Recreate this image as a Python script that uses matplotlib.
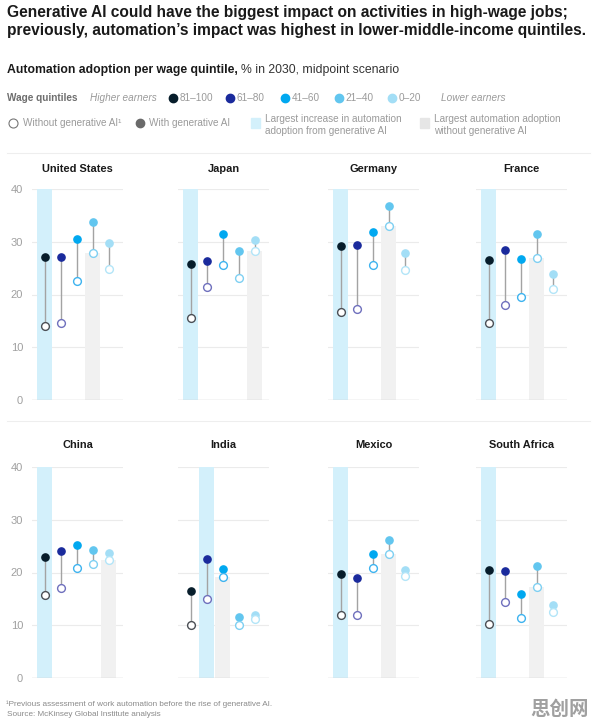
import matplotlib
matplotlib.use("Agg")
import matplotlib.pyplot as plt
from matplotlib.patches import Rectangle
from matplotlib.lines import Line2D

plt.rcParams['font.family'] = ['Liberation Sans', 'DejaVu Sans']

W, H = 596, 724

countries = ["United States", "Japan", "Germany", "France",
             "China", "India", "Mexico", "South Africa"]
quintiles = ["81\u2013100", "61\u201380", "41\u201360", "21\u201340", "0\u201320"]

# % in 2030, midpoint scenario, per wage quintile (81-100 ... 0-20)
with_gen = [
    [27.1, 27.1, 30.5, 33.8, 29.8],
    [25.8, 26.3, 31.4, 28.2, 30.4],
    [29.2, 29.4, 31.8, 36.7, 27.8],
    [26.5, 28.5, 26.8, 31.4, 23.9],
    [22.9, 24.1, 25.2, 24.3, 23.7],
    [16.5, 22.5, 20.6, 11.5, 11.9],
    [19.7, 19.0, 23.5, 26.1, 20.5],
    [20.5, 20.2, 16.0, 21.3, 13.8],
]
without_gen = [
    [14.0, 14.6, 22.5, 27.9, 24.8],
    [15.6, 21.5, 25.5, 23.2, 28.2],
    [16.7, 17.2, 25.6, 33.0, 24.7],
    [14.6, 18.0, 19.6, 26.9, 21.0],
    [15.7, 17.1, 20.9, 21.6, 22.4],
    [10.0, 15.0, 19.2, 10.0, 11.2],
    [11.9, 11.9, 20.9, 23.6, 19.4],
    [10.2, 14.5, 11.4, 17.2, 12.6],
]
# index of quintile with largest increase from gen AI / largest adoption without
largest_increase = [0, 0, 0, 0, 0, 1, 0, 0]
largest_without = [3, 4, 3, 3, 4, 2, 3, 3]

yticks = [0, 10, 20, 30, 40]

dot_colors = ["#071d2b", "#1a2a9c", "#00a8f0", "#62c6ef", "#a3def6"]
ring_colors = ["#4b4f55", "#6f70bd", "#3eb3ef", "#7fd0f2", "#b3e5f8"]
band_blue = "#d3f0fb"
band_grey = "#f1f1f1"
leg_grey = "#9a9a9a"
LFS = 7.2

fig = plt.figure(figsize=(W / 100, H / 100), dpi=100)


def px_axes(x, y, w, h):
    return fig.add_axes([x / W, 1 - (y + h) / H, w / W, h / H])


# title block
fig.text(7 / W, 1 - 13 / H,
         "Generative AI could have the biggest impact on activities in high-wage jobs;",
         fontsize=11.2, fontweight="bold", color="#1a1a1a", va="center")
fig.text(7 / W, 1 - 31 / H,
         "previously, automation\u2019s impact was highest in lower-middle-income quintiles.",
         fontsize=11.2, fontweight="bold", color="#1a1a1a", va="center")

t1 = fig.text(7 / W, 1 - 70 / H, "Automation adoption per wage quintile,",
              fontsize=8.8, fontweight="bold", color="#1a1a1a", va="center")
fig.canvas.draw()
bb = t1.get_window_extent()
fig.text(bb.x1 / W + 3 / W, 1 - 70 / H, "% in 2030, midpoint scenario",
         fontsize=8.8, color="#333333", va="center")

# legend row 1
ly = 1 - 98 / H
fig.text(7 / W, ly, "Wage quintiles", fontsize=LFS, fontweight="bold",
         color="#6e6e6e", va="center")
fig.text(90 / W, ly, "Higher earners", fontsize=LFS, style="italic",
         color=leg_grey, va="center")
dot_x = [173, 230, 285, 339, 392]
for i, q in enumerate(quintiles):
    fig.add_artist(Line2D([dot_x[i] / W], [ly], marker="o", markersize=6,
                          color=dot_colors[i], linestyle="none"))
    fig.text((dot_x[i] + 6.5) / W, ly, q, fontsize=LFS, color=leg_grey,
             va="center")
fig.text(441 / W, ly, "Lower earners", fontsize=LFS, style="italic",
         color=leg_grey, va="center")

# legend row 2
ly2 = 1 - 123 / H
fig.add_artist(Line2D([13 / W], [ly2], marker="o", markersize=6.5,
                      markerfacecolor="white", markeredgecolor="#777777",
                      markeredgewidth=0.8, linestyle="none"))
fig.text(23 / W, ly2, "Without generative AI\u00b9", fontsize=LFS,
         color=leg_grey, va="center")
fig.add_artist(Line2D([140 / W], [ly2], marker="o", markersize=6,
                      color="#6a6a6a", linestyle="none"))
fig.text(149 / W, ly2, "With generative AI", fontsize=LFS,
         color=leg_grey, va="center")
fig.add_artist(Rectangle((251 / W, 1 - 128 / H), 9 / W, 10 / H,
                         color=band_blue, transform=fig.transFigure))
fig.text(265 / W, 1 - 125 / H, "Largest increase in automation\nadoption from generative AI",
         fontsize=LFS, color=leg_grey, va="center", linespacing=1.25)
fig.add_artist(Rectangle((420 / W, 1 - 128 / H), 9 / W, 10 / H,
                         color="#e6e6e6", transform=fig.transFigure))
fig.text(434 / W, 1 - 125 / H, "Largest automation adoption\nwithout generative AI",
         fontsize=LFS, color=leg_grey, va="center", linespacing=1.25)

# separators
for sy in [153, 421]:
    fig.add_artist(Line2D([7 / W, 590 / W], [1 - sy / H, 1 - sy / H],
                          color="#eeeeee", linewidth=0.8))

# panels
col_x = [32, 178, 328, 476]
row_y = [189, 467]
pw, ph = 91, 211

for k, name in enumerate(countries):
    r, c = divmod(k, 4)
    ax = px_axes(col_x[c], row_y[r], pw, ph)
    ax.set_xlim(-0.8, 4.9)
    ax.set_ylim(0, 40)
    for s in ax.spines.values():
        s.set_visible(False)
    for yv in yticks[1:]:
        ax.axhline(yv, color="#ebebeb", linewidth=0.8, zorder=0)
    ax.axhline(0, color="#cfcfcf", linewidth=1.0, zorder=3)

    ax.bar(largest_increase[k], 40, width=0.92, color=band_blue, zorder=1)
    ax.bar(largest_without[k], without_gen[k][largest_without[k]], width=0.92,
           color=band_grey, zorder=1)

    for i in range(5):
        ax.plot([i, i], [without_gen[k][i], with_gen[k][i]], color="#a3a3a3",
                linewidth=1.0, zorder=2)
        ax.plot(i, with_gen[k][i], marker="o", markersize=5.2,
                color=dot_colors[i], linestyle="none", zorder=4)
        ax.plot(i, without_gen[k][i], marker="o", markersize=5.6,
                markerfacecolor="white", markeredgecolor=ring_colors[i],
                markeredgewidth=1.0, linestyle="none", zorder=4)

    ax.set_xticks([])
    ax.set_yticks(yticks)
    ax.tick_params(axis="y", length=0, pad=6.5, labelsize=8, labelcolor="#a0a0a0")
    if c != 0:
        ax.set_yticklabels([])
    ax.set_title(name, fontsize=7.9, fontweight="bold", color="#1a1a1a",
                 pad=12 if r == 0 else 14)

# footnotes
fig.text(6 / W, 1 - 704 / H,
         "\u00b9Previous assessment of work automation before the rise of generative AI.",
         fontsize=5.9, color="#8a8a8a", va="center")
fig.text(7 / W, 1 - 714 / H, "Source: McKinsey Global Institute analysis",
         fontsize=5.9, color="#8a8a8a", va="center")
fig.text(589 / W, 1 - 709 / H, "思创网", fontsize=14, fontweight="bold",
         color="#a0a0a0", ha="right", va="center",
         family=["Noto Sans CJK SC", "DejaVu Sans"])

fig.savefig("out.png", dpi=100)
